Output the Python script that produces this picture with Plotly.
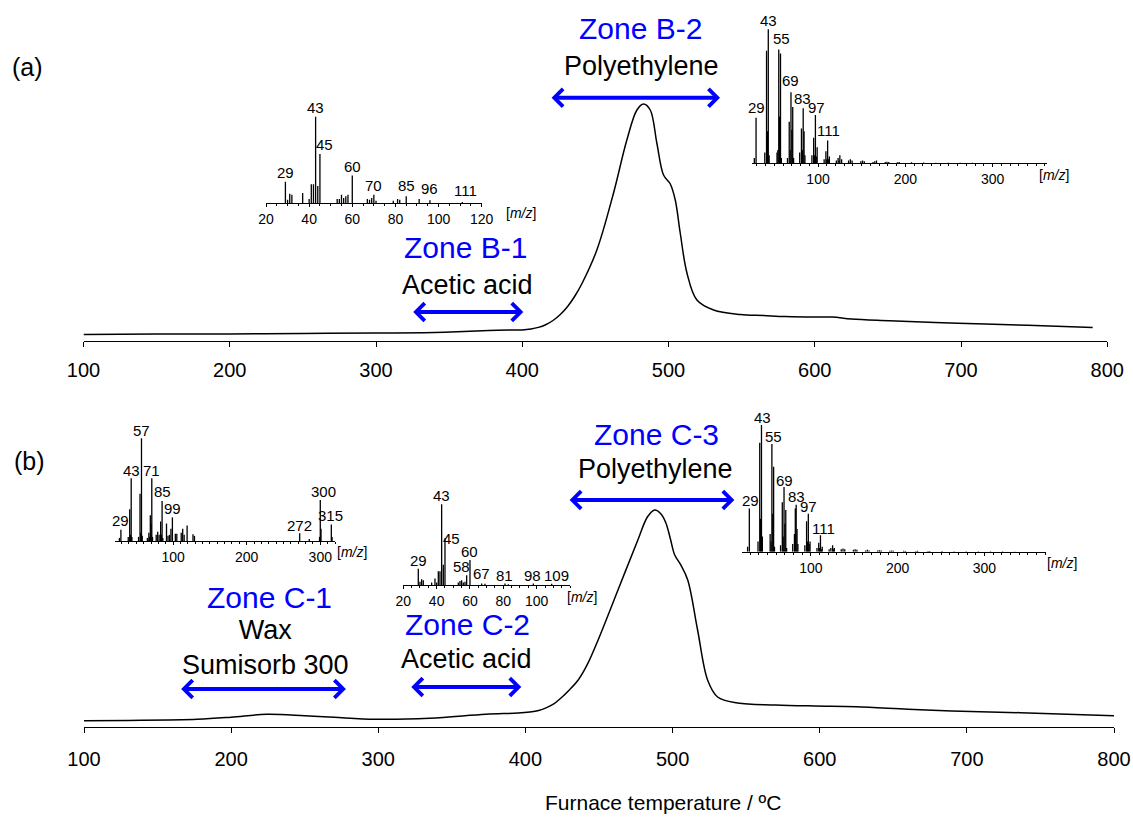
import plotly.graph_objects as go

W, H = 1133, 817

# ---------------- data ----------------
# (a) thermogram
temp_a = [100, 150, 200, 250, 300, 340, 360, 377, 391, 400, 406, 411, 416, 421, 426, 431, 436, 441, 451,
          462.4, 471.5, 478.4, 482.9, 487.5, 492, 496.6, 501.2, 504.6, 508, 512.6, 519.4, 530.8,
          549, 565, 580, 600, 612, 625, 651, 698, 745.7, 790]
signal_a = [6.5, 7, 7, 7.5, 8, 8.5, 9.5, 10.5, 10.9, 11, 12, 13.6, 16.3, 20.5, 26.5, 34.5, 45, 58, 91,
            148, 201, 231, 237, 231, 198, 166, 157, 141, 108, 68, 41, 31,
            26.5, 25.5, 24.5, 24, 24, 22, 20.3, 17.7, 15.7, 13.5]

# (b) thermogram
temp_b = [100, 130, 177, 200, 224, 250, 270, 298, 335, 373, 395, 403, 409, 414, 419, 424, 430, 436, 442, 449.4,
          462.9, 476.4, 483, 487.9, 492, 495.4, 498.5, 501.4, 505.5, 510.3, 517, 523.8, 530.6,
          544.1, 570, 596.6, 624.7, 660, 689.7, 736.4, 800]
signal_b = [6, 6.3, 7.4, 9.5, 12.4, 11, 9.4, 7.4, 8.4, 12.4, 13.7, 14.8, 16.3, 18.8, 22.5, 28.5, 37, 47, 62, 86.7,
            136.7, 186.7, 210, 216.7, 213, 204, 188, 172, 162, 146.7, 96.7, 46.7, 29.7,
            23.7, 21.7, 20.7, 20, 17.5, 15.7, 14, 11]

x_ticks_main = [100, 200, 300, 400, 500, 600, 700, 800]

# zones (temperature ranges)
zone_a_names = ["Zone B-1", "Zone B-2"]
zone_a_desc = ["Acetic acid", "Polyethylene"]
zone_a_start = [324.4, 419.0]
zone_a_end = [400.7, 535.2]
zone_b_names = ["Zone C-1", "Zone C-2", "Zone C-3"]
zone_b_desc = ["Wax<br>Sumisorb 300", "Acetic acid", "Polyethylene"]
zone_b_start = [165, 321.4, 429]
zone_b_end = [278, 397.2, 542]

# mass spectra (m/z, relative intensity %)
ms1_mz = [29, 30, 31, 32, 37, 40, 41, 42, 43, 44, 45, 53, 54, 55, 56, 57, 58, 60, 67, 68, 69, 70, 71,
          79, 81, 82, 85, 91, 96, 111]
ms1_int = [25, 4, 11, 10, 12, 5, 22, 22, 100, 20, 57, 5, 5, 10, 6, 8, 10, 32, 5, 4, 6, 10, 3,
           3, 5, 4, 8, 5, 3.5, 1.5]
ms1_lab = ["29", "43", "45", "60", "70", "85", "96", "111"]
ms1_lab_x = [29, 43, 47.3, 60, 70, 85, 96, 112.7]
ms1_lab_y = [28, 103, 60, 35, 13.5, 12.7, 9.6, 7]

ms2_mz = [27, 29, 39, 41, 42, 43, 44, 53, 54, 55, 56, 57, 58, 65, 67, 68, 69, 70, 71, 72, 79, 81, 82,
          83, 84, 85, 93, 95, 96, 97, 98, 99, 107, 109, 110, 111, 112, 113, 121, 123, 124, 125, 127,
          135, 137, 139, 149, 151, 153, 163, 165, 167, 177, 179, 181, 191, 193, 207, 221, 235, 249,
          263, 277, 291, 305, 319, 333]
ms2_int = [4, 34, 8, 84, 24, 100, 6, 8, 10, 85, 35, 82, 4, 4, 31, 10, 53, 25, 42, 4, 8, 26, 10,
           41, 24, 6, 6, 19, 6, 36, 5, 12, 3, 9, 3, 17, 3, 5, 2, 4, 2, 6, 3,
           2, 3, 2, 1.5, 2, 1.5, 1, 1.5, 2, 1, 1.2, 1, 0.8, 1, 0.8, 0.6, 0.5, 0.5,
           0.4, 0.4, 0.3, 0.3, 0.3, 0.2]
ms2_lab = ["29", "43", "55", "69", "83", "97", "111"]
ms2_lab_x = [29, 43, 58.4, 69, 82, 97.7, 111.8]
ms2_lab_y = [37, 102, 88, 57, 43.5, 37, 20]

ms3_mz = [27, 29, 39, 41, 42, 43, 44, 53, 55, 56, 57, 58, 65, 67, 68, 69, 70, 71, 72, 77, 79, 81,
          83, 84, 85, 86, 91, 93, 95, 97, 99, 103, 105, 111, 113, 115, 119, 127, 129, 272, 285,
          299, 300, 301, 315, 316]
ms3_int = [3, 11, 4, 31, 6, 61, 4, 4, 46, 8, 100, 5, 3, 8, 4, 25, 17, 61, 4, 6, 9, 6,
           19, 6, 39, 3, 17, 5, 6, 12, 23, 7, 7, 8, 12, 6, 15, 6.5, 5, 7.5, 2,
           4, 40, 12, 16, 4]
ms3_lab = ["29", "43", "57", "71", "85", "99", "272", "300", "315"]
ms3_lab_x = [28.7, 43.7, 57.3, 70.9, 85.4, 99.4, 272.4, 305, 314]
ms3_lab_y = [13.3, 62.7, 101.6, 62.7, 41.6, 25.3, 9.1, 41.6, 18.8]

ms4_mz = [29, 30, 31, 32, 37, 39, 40, 41, 42, 43, 44, 45, 53, 54, 55, 56, 57, 58, 60, 67, 69, 81,
          83, 98, 109]
ms4_int = [20, 4, 7, 6, 3, 8, 3, 17, 17, 100, 25, 58, 3, 5, 6, 3, 4, 12, 31, 2, 1.5, 2,
           1, 2, 1.5]
ms4_lab = ["29", "43", "45", "58", "60", "67", "81", "98", "109"]
ms4_lab_x = [29, 43, 49, 55, 60, 67, 81, 97.6, 112]
ms4_lab_y = [22.7, 103, 49.6, 14.5, 33, 6.2, 4.1, 4.1, 4.1]

ms5_mz = [27, 29, 39, 41, 42, 43, 44, 53, 54, 55, 56, 57, 58, 65, 67, 68, 69, 70, 71, 72, 79, 81, 82,
          83, 84, 85, 93, 95, 96, 97, 98, 99, 107, 109, 110, 111, 112, 113, 121, 123, 125, 126, 127,
          135, 137, 139, 149, 151, 153, 163, 165, 167, 177, 179, 181, 191, 193, 195, 207, 209, 221,
          223, 235, 237, 251, 265, 279, 293, 307, 321, 335]
ms5_int = [4, 34, 8, 86, 26, 100, 12, 14, 8, 85, 30, 67, 4, 5, 39, 12, 51, 22, 33, 3, 6, 14, 34,
           37, 18, 6, 5, 24, 8, 30, 6, 8, 3, 7, 3, 13, 2, 4, 2, 3, 5, 2, 3,
           2, 2.5, 2, 1.5, 2, 1.5, 1, 1.5, 1, 1, 1.2, 1, 0.8, 1, 0.8, 0.8, 0.6, 0.6,
           0.8, 0.5, 0.6, 0.5, 0.4, 0.4, 0.3, 0.3, 0.3, 0.2]
ms5_lab = ["29", "43", "55", "69", "83", "97", "111"]
ms5_lab_x = [30.6, 44, 56.7, 70.1, 83.6, 97.6, 114.3]
ms5_lab_y = [35.5, 100.8, 85.5, 51.3, 38.2, 30.3, 13.2]

# ---------------- layout helpers ----------------
FONT = "Liberation Sans, Arial, sans-serif"
BLUE = "#0000FF"


def px(x):
    return x / W


def py(y):
    return 1 - y / H


fig = go.Figure()
annotations = []

panels = {
    "a": dict(x0=83.5, x1=1107.3, axis=341.0, xa="x", ya="y", standoff=6),
    "b": dict(x0=84.0, x1=1114.0, axis=726.7, xa="x2", ya="y2", standoff=9),
}
YTOP = 250  # 1 unit = 1 px

fig.add_trace(go.Scatter(x=temp_a, y=signal_a, mode="lines",
                         line=dict(color="black", width=1.5, shape="spline", smoothing=1.0),
                         xaxis="x", yaxis="y", hoverinfo="skip"))
fig.add_trace(go.Scatter(x=temp_b, y=signal_b, mode="lines",
                         line=dict(color="black", width=1.5, shape="spline", smoothing=1.0),
                         xaxis="x2", yaxis="y2", hoverinfo="skip"))

axis_common = dict(range=[100, 800], tickvals=x_ticks_main, showline=True, linecolor="black", linewidth=1.3,
                   ticks="outside", ticklen=5, tickwidth=1.3, tickcolor="black", showgrid=False, zeroline=False,
                   tickfont=dict(size=20, family=FONT, color="black"), fixedrange=True,
                   automargin=False, ticklabeloverflow="allow")
layout_axes = {}
for key, p in panels.items():
    xname = "xaxis" if p["xa"] == "x" else "xaxis2"
    yname = "yaxis" if p["ya"] == "y" else "yaxis2"
    layout_axes[xname] = dict(axis_common, domain=[px(p["x0"]), px(p["x1"])], anchor=p["ya"],
                              ticklabelstandoff=p["standoff"])
    layout_axes[yname] = dict(domain=[py(p["axis"]), py(p["axis"] - YTOP)], range=[0, YTOP], visible=False,
                              anchor=p["xa"], fixedrange=True, automargin=False)

# zone arrows
arrow_levels_a = [29, 243.3]
arrow_levels_b = [37.7, 39.7, 226.7]
for starts, ends, levels, xa, ya in [(zone_a_start, zone_a_end, arrow_levels_a, "x", "y"),
                                     (zone_b_start, zone_b_end, arrow_levels_b, "x2", "y2")]:
    for s, e, lv in zip(starts, ends, levels):
        annotations.append(dict(x=e, y=lv, ax=s, ay=lv, xref=xa, yref=ya, axref=xa, ayref=ya, text="",
                                showarrow=True, arrowhead=4, startarrowhead=4, arrowside="end+start",
                                arrowwidth=4, arrowsize=0.85, startarrowsize=0.85, arrowcolor=BLUE,
                                standoff=0, startstandoff=0))

# zone texts (pixel centres)
zone_a_title_pos = [(465, 248), (640, 28)]
zone_a_desc_pos = [(467, 285), (641, 66)]
zone_b_title_pos = [(269, 597), (467, 624), (656, 434)]
zone_b_desc_pos = [(265, 647), (466, 659), (655, 469)]
for names, descs, tpos, dpos in [(zone_a_names, zone_a_desc, zone_a_title_pos, zone_a_desc_pos),
                                 (zone_b_names, zone_b_desc, zone_b_title_pos, zone_b_desc_pos)]:
    for n, d, tp, dp in zip(names, descs, tpos, dpos):
        annotations.append(dict(x=px(tp[0]), y=py(tp[1]), xref="paper", yref="paper", text=n, showarrow=False,
                                xanchor="center", yanchor="middle", font=dict(size=30, color=BLUE, family=FONT)))
        annotations.append(dict(x=px(dp[0]), y=py(dp[1]), xref="paper", yref="paper", text=d, showarrow=False,
                                xanchor="center", yanchor="middle", font=dict(size=27, color="black", family=FONT)))

# panel labels and axis title
annotations.append(dict(x=px(27), y=py(67), xref="paper", yref="paper", text="(a)", showarrow=False,
                        xanchor="center", yanchor="middle", font=dict(size=25, family=FONT, color="black")))
annotations.append(dict(x=px(29), y=py(461), xref="paper", yref="paper", text="(b)", showarrow=False,
                        xanchor="center", yanchor="middle", font=dict(size=25, family=FONT, color="black")))
annotations.append(dict(x=px(663), y=py(802), xref="paper", yref="paper", text="Furnace temperature / ºC",
                        showarrow=False, xanchor="center", yanchor="middle",
                        font=dict(size=21, family=FONT, color="black")))

# ---------------- insets ----------------
insets = [
    dict(mz=ms1_mz, it=ms1_int, lab=ms1_lab, lx=ms1_lab_x, ly=ms1_lab_y, x0=266, x1=481.7, rng=[20, 120],
         axis=203.3, full=86.6, tv=[20, 40, 60, 80, 100, 120], minor=5, mzpos=(521, 213)),
    dict(mz=ms2_mz, it=ms2_int, lab=ms2_lab, lx=ms2_lab_x, ly=ms2_lab_y, x0=751.7, x1=1046.7, rng=[24, 362],
         axis=163.3, full=134, tv=[100, 200, 300], minor=10, mzpos=(1054, 175)),
    dict(mz=ms3_mz, it=ms3_int, lab=ms3_lab, lx=ms3_lab_x, ly=ms3_lab_y, x0=115, x1=335, rng=[21, 320],
         axis=541, full=102.7, tv=[100, 200, 300], minor=10, mzpos=(352, 552)),
    dict(mz=ms4_mz, it=ms4_int, lab=ms4_lab, lx=ms4_lab_x, ly=ms4_lab_y, x0=403.3, x1=570, rng=[20, 120],
         axis=585, full=80.7, tv=[20, 40, 60, 80, 100], minor=5, mzpos=(582, 597)),
    dict(mz=ms5_mz, it=ms5_int, lab=ms5_lab, lx=ms5_lab_x, ly=ms5_lab_y, x0=741.7, x1=1046, rng=[20.2, 371],
         axis=551.7, full=126.7, tv=[100, 200, 300], minor=10, mzpos=(1062, 563)),
]

for i, ins in enumerate(insets):
    n = i + 3
    xa, ya = f"x{n}", f"y{n}"
    xs, ys = [], []
    for m, h in zip(ins["mz"], ins["it"]):
        xs += [m, m, None]
        ys += [0, h, None]
    fig.add_trace(go.Scatter(x=xs, y=ys, mode="lines", line=dict(color="black", width=1.3),
                             xaxis=xa, yaxis=ya, hoverinfo="skip", connectgaps=False))
    layout_axes[f"xaxis{n}"] = dict(domain=[px(ins["x0"]), px(ins["x1"])], range=ins["rng"], anchor=ya,
                                    showline=True, linecolor="black", linewidth=1, ticks="outside", ticklen=3,
                                    tickwidth=1, tickcolor="black", tickvals=ins["tv"], showgrid=False,
                                    zeroline=False, tickfont=dict(size=14, family=FONT, color="black"),
                                    ticklabelstandoff=0,
                                    minor=dict(dtick=ins["minor"], ticks="outside", ticklen=2, tickcolor="black",
                                               showgrid=False),
                                    fixedrange=True, automargin=False)
    ytop = 120
    layout_axes[f"yaxis{n}"] = dict(domain=[py(ins["axis"]), py(ins["axis"] - ins["full"] * ytop / 100)],
                                    range=[0, ytop], visible=False, anchor=xa, fixedrange=True, automargin=False)
    for t, lx, ly in zip(ins["lab"], ins["lx"], ins["ly"]):
        annotations.append(dict(x=lx, y=ly, xref=xa, yref=ya, text=t, showarrow=False, xanchor="center",
                                yanchor="bottom", yshift=-4, font=dict(size=15, family=FONT, color="black")))
    annotations.append(dict(x=px(ins["mzpos"][0]), y=py(ins["mzpos"][1]), xref="paper", yref="paper",
                            text="[<i>m/z</i>]", showarrow=False, xanchor="center", yanchor="middle",
                            font=dict(size=14, family=FONT, color="black")))

fig.update_layout(width=W, height=H, autosize=False,
                  margin=dict(l=0, r=0, t=0, b=0, pad=0, autoexpand=False), paper_bgcolor="white",
                  plot_bgcolor="rgba(0,0,0,0)", showlegend=False, font=dict(family=FONT, color="black"),
                  annotations=annotations, **layout_axes)

fig.write_html("out.html", config={"displayModeBar": False},
               post_script="document.body.style.margin='0';document.body.style.overflow='hidden';")
